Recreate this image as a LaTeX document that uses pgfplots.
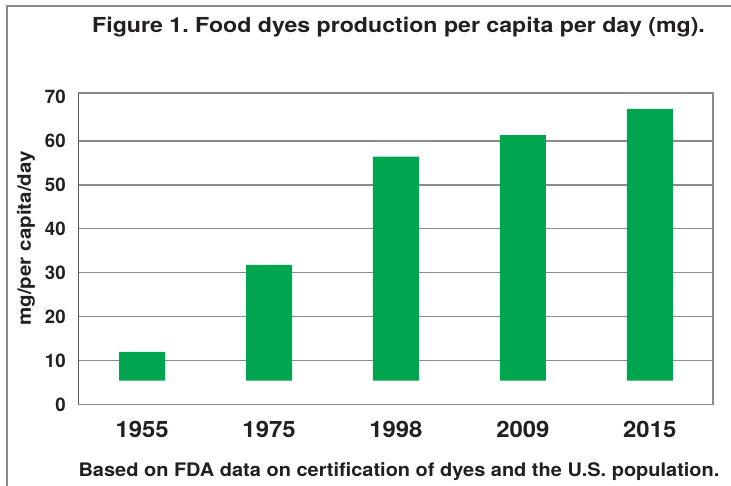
\documentclass[border=0pt]{standalone}
\usepackage{fontspec}
\setmainfont{TeX Gyre Heros}
\usepackage{pgfplots}
\pgfplotsset{compat=1.18}
\usepackage{pgfplotstable}
\definecolor{bargreen}{RGB}{0,165,80}
\definecolor{gridgray}{RGB}{140,140,140}
\definecolor{txt}{RGB}{35,31,32}
\frenchspacing

\pgfplotstableread{
x year base value
0 1955 5.4 12.0
1 1975 5.4 31.8
2 1998 5.4 56.4
3 2009 5.4 61.3
4 2015 5.4 67.3
}\dyes

\begin{document}
\begin{tikzpicture}
\draw[gridgray, line width=1.5pt] (5.25pt,-10pt) -- (5.25pt,359.25pt) -- (560pt,359.25pt);
\node[anchor=base, text=txt, font=\fontsize{15.5}{18}\selectfont\bfseries] at (298.9pt,339.5pt)
  {\scalebox{1.12}[1]{Figure 1. Food dyes production per capita per day (mg).}};
\node[anchor=base, text=txt, font=\fontsize{14}{16}\selectfont\bfseries] at (299.25pt,6.2pt)
  {\scalebox{1.07}[1]{Based on FDA data on certification of dyes and the U.S. population.}};
\node[rotate=90, text=txt, font=\fontsize{14}{16}\selectfont\bfseries] at (19.5pt,185pt)
  {\scalebox{1.1}[1]{mg/per capita/day}};
\begin{axis}[
  at={(59.0pt,60.4pt)}, anchor=south west,
  scale only axis, width=475.9pt, height=233.6pt,
  xmin=-0.5, xmax=4.5, ymin=0, ymax=70.9,
  ybar stacked, bar width=34.5pt,
  xtick=data, xticklabels={1955,1975,1998,2009,2015},
  ytick={0,10,...,60}, extra y ticks={70}, extra y tick style={grid=none},
  ymajorgrids, grid style={gridgray, line width=1.1pt},
  major tick length=0pt,
  axis line style={gridgray, line width=1.1pt},
  /pgf/number format/assume math mode=true,
  yticklabel style={anchor=east, inner sep=0pt, xshift=-9.5pt, text=txt, font=\fontsize{14}{16}\selectfont\bfseries},
  xticklabel style={anchor=north, inner sep=0pt, yshift=-12pt, xscale=1.06, text=txt, font=\fontsize{16.9}{19}\selectfont\bfseries},
]
\addplot[draw=none, fill=none] table[x=x, y=base] {\dyes};
\addplot[draw=none, fill=bargreen] table[x=x, y expr=\thisrow{value}-\thisrow{base}] {\dyes};
\draw[black, line width=1.1pt] (rel axis cs:0,0) -- (rel axis cs:0,1);
\end{axis}
\pgfresetboundingbox
\useasboundingbox (0pt,0pt) rectangle (548.25pt,363.75pt);
\end{tikzpicture}
\end{document}
